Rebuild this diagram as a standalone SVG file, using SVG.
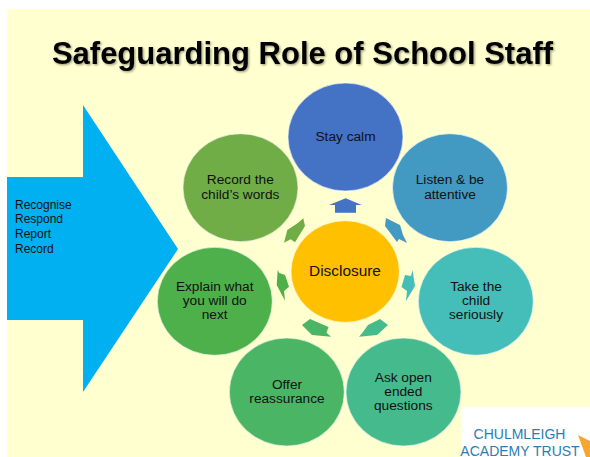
<svg xmlns="http://www.w3.org/2000/svg" width="590" height="457" viewBox="0 0 590 457">
<style>
text{font-family:"Liberation Sans",Arial,sans-serif;fill:#111}
.n{font-size:13.7px;text-anchor:middle}
.c{stroke:#fff;stroke-opacity:.6;stroke-width:1}
.l{font-size:12px}
.t{font-size:14px;fill:#2a7db5;text-anchor:middle}
</style>
<defs><filter id="s" x="-5%" y="-20%" width="110%" height="150%"><feDropShadow dx="1.2" dy="1.2" stdDeviation="0.9" flood-color="#000" flood-opacity=".4"/></filter></defs>
<rect width="590" height="457" fill="#fff"/>
<rect x="7" y="9" width="583" height="448" fill="#ffffcf"/>
<text id="title" x="302.500" y="64" font-size="31" font-weight="bold" text-anchor="middle" style="fill:#000" filter="url(#s)">Safeguarding Role of School Staff</text>
<g id="big-arrow">
<polygon points="7,177 83,177 83,105 178,249 83,392 83,320 7,320" fill="#00b0f0"/>
<text class="l" x="15" y="208.500">Recognise</text>
<text class="l" x="15" y="223">Respond</text>
<text class="l" x="15" y="238">Report</text>
<text class="l" x="15" y="252.500">Record</text>
</g>
<g id="connectors">
<polygon fill="#4472c4" points="345.700,198.300 361.700,205 356,205 356,212.700 335,212.700 335,205 329,205"/>
<polygon fill="#4299c2" points="386,218 400,225 403,235 407,243 399,239 397,242 385,226"/>
<polygon fill="#45bdb8" points="412.500,270 415,286 406,301 407,291 401.500,287 405,275 411,276"/>
<polygon fill="#45ba8c" points="380,319 388,325 377,335 359,336.700 363,332 368,325"/>
<polygon fill="#4ab565" points="310,319 302,325 312,335 331,336.700 326.500,332.700 328.500,327"/>
<polygon fill="#4db04a" points="277.700,270 276.700,285 285,300.700 284,291 289,286.700 285,275 279.300,273"/>
<polygon fill="#70ad47" points="303.300,218.300 305,226 295,242.300 290.700,239.300 284,242.700 287.300,230 298.300,222.700"/>
</g>
<g id="stay-calm"><ellipse class="c" cx="345.500" cy="137" rx="57.500" ry="54" fill="#4472c4"/><text class="n" x="345.500" y="141">Stay calm</text></g>
<g id="listen"><ellipse class="c" cx="450" cy="187.700" rx="57.500" ry="54" fill="#4299c2"/><text class="n" x="450" y="184.300">Listen &amp; be</text><text class="n" x="450" y="198.700">attentive</text></g>
<g id="take-seriously"><ellipse class="c" cx="475.800" cy="301.300" rx="57.500" ry="54" fill="#45bdb8"/><text class="n" x="476" y="291">Take the</text><text class="n" x="476" y="305">child</text><text class="n" x="476" y="319">seriously</text></g>
<g id="ask-questions"><ellipse class="c" cx="403.500" cy="392" rx="57.500" ry="54" fill="#45ba8c"/><text class="n" x="403.300" y="381.700">Ask open</text><text class="n" x="403.300" y="396">ended</text><text class="n" x="403.300" y="410">questions</text></g>
<g id="offer-reassurance"><ellipse class="c" cx="286.800" cy="392" rx="57.500" ry="54" fill="#4ab565"/><text class="n" x="287" y="389">Offer</text><text class="n" x="287" y="403.300">reassurance</text></g>
<g id="explain"><ellipse class="c" cx="214.800" cy="301.300" rx="57.500" ry="54" fill="#4db04a"/><text class="n" x="214.700" y="291">Explain what</text><text class="n" x="214.700" y="305">you will do</text><text class="n" x="214.700" y="319">next</text></g>
<g id="record-words"><ellipse class="c" cx="240.500" cy="187.700" rx="57.500" ry="54" fill="#70ad47"/><text class="n" x="240.300" y="184.300">Record the</text><text class="n" x="240.300" y="198.700">child’s words</text></g>
<g id="disclosure"><ellipse class="c" cx="345.200" cy="271.500" rx="54.200" ry="50.800" fill="#ffc000"/><text x="345" y="275.700" font-size="15.400" text-anchor="middle">Disclosure</text></g>
<g id="logo">
<rect x="461" y="407" width="129" height="50" fill="#fff"/>
<text class="t" x="519.500" y="439">CHULMLEIGH</text>
<text class="t" x="520" y="455.500">ACADEMY TRUST</text>
<polygon points="578,435 590,441 590,457 586,457" fill="#f5a733"/>
</g>
</svg>
